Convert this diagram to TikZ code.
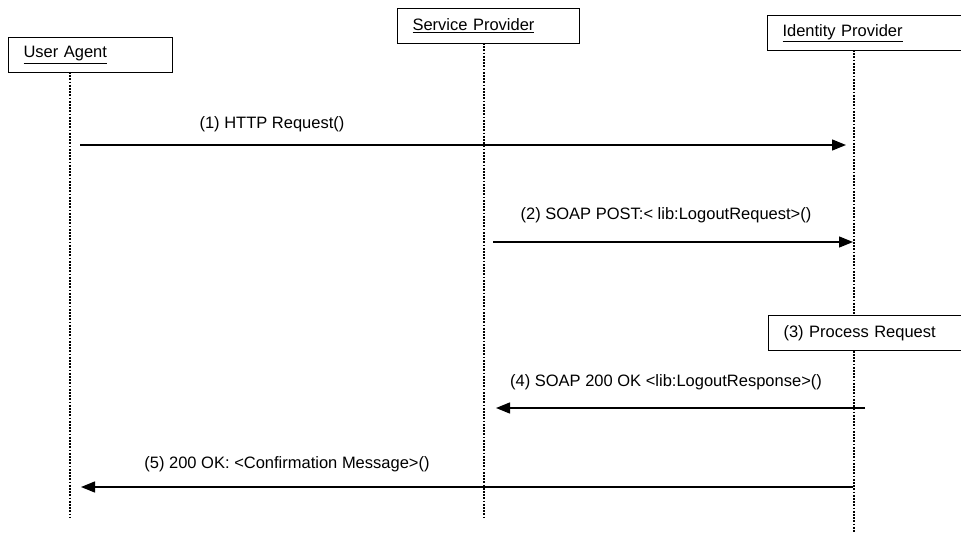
\documentclass[tikz,border=0pt]{standalone}
\usepackage{fontspec}
\setmainfont{Liberation Sans}
\usetikzlibrary{arrows.meta}
\begin{document}
\begin{tikzpicture}[x=1pt,y=-1pt,
  every node/.style={font=\fontsize{16.5}{19}\selectfont},
  actor/.style={draw,line width=1pt,anchor=north west,minimum height=35pt,inner xsep=15pt,inner ysep=0pt,align=left},
  lifeline/.style={line width=1.8pt,dash pattern=on 1.8pt off 1.4pt},
  msg/.style={line width=1.4pt,-{Triangle[length=14pt,width=11pt]}},
  lbl/.style={inner sep=0pt}]
\clip (0,0) rectangle (961,533);
\fill[white] (0,0) rectangle (961,533);
% lifelines
\coordinate (uaTop) at (70,72);
\coordinate (uaBot) at (70,518);
\coordinate (spTop) at (484,43);
\coordinate (spBot) at (484,518);
\coordinate (idTop) at (854,50);
\coordinate (idBot) at (854,533);
\draw[lifeline] (uaTop) -- (uaBot);
\draw[lifeline] (spTop) -- (spBot);
\draw[lifeline] (idTop) -- (idBot);
% actor boxes
\node[actor,fill=white,text width=134pt] (ua) at (8,37) {\underline{User Agent}};
\node[actor,fill=white,text width=152pt] (sp) at (397,8) {\underline{Service Provider}};
\node[actor,fill=white,text width=180pt] (idp) at (767,15) {\underline{Identity Provider}};
\node[actor,fill=white,text width=180pt] (proc) at (768,315) {(3) Process Request};
% messages
\coordinate (m1s) at (80,145);  \coordinate (m1e) at (846,145);
\coordinate (m2s) at (493,242); \coordinate (m2e) at (853,242);
\coordinate (m4s) at (865,408); \coordinate (m4e) at (496,408);
\coordinate (m5s) at (853,487); \coordinate (m5e) at (81,487);
\draw[msg] (m1s) -- (m1e);
\draw[msg] (m2s) -- (m2e);
\draw[msg] (m4s) -- (m4e);
\draw[msg] (m5s) -- (m5e);
\node[lbl] (l1) at (272,124) {(1) HTTP Request()};
\node[lbl] (l2) at (666,215) {(2) SOAP POST:< lib:LogoutRequest>()};
\node[lbl] (l4) at (666,382) {(4) SOAP 200 OK <lib:LogoutResponse>()};
\node[lbl] (l5) at (287,464) {(5) 200 OK: <Confirmation Message>()};
\end{tikzpicture}
\end{document}
